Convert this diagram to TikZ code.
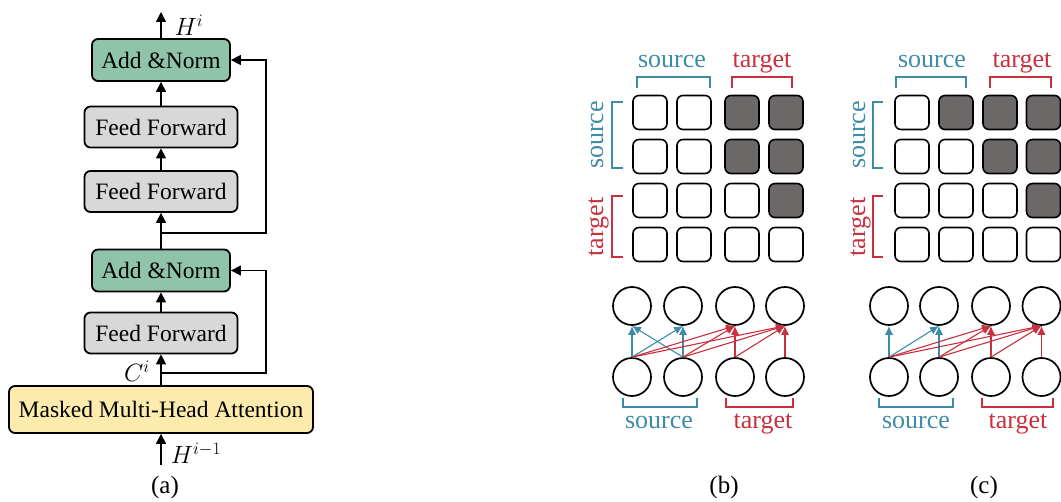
\RequirePackage{fix-cm}
\documentclass[tikz,border=0pt]{standalone}
\usepackage{fontspec}
\setmainfont{Liberation Serif}
\usetikzlibrary{arrows.meta}

\definecolor{normgreen}{RGB}{143,196,171}
\definecolor{ffgray}{RGB}{216,216,216}
\definecolor{attnyellow}{RGB}{252,235,172}
\definecolor{srcblue}{RGB}{62,139,168}
\definecolor{tgtred}{RGB}{201,48,62}
\definecolor{maskgray}{RGB}{108,104,104}

\begin{document}
\begin{tikzpicture}[x=1pt,y=-1pt,
  blockbox/.style={draw, line width=1.8pt, rounded corners=6pt, inner sep=0pt,
    font=\fontsize{23.5}{27}\selectfont},
  normbox/.style={blockbox, fill=normgreen, minimum width=138pt, minimum height=42pt},
  ffbox/.style={blockbox, fill=ffgray, minimum width=153pt, minimum height=41pt},
  attnbox/.style={blockbox, fill=attnyellow, minimum width=304pt, minimum height=47pt},
  flow/.style={line width=1.4pt, -{Triangle[length=10pt,width=10pt]}},
  mathlbl/.style={inner sep=0pt, font=\fontsize{25}{29}\selectfont},
  cell/.style={draw, line width=1.6pt, rounded corners=6pt, minimum size=34pt, inner sep=0pt},
  unit/.style={draw, circle, line width=1.7pt, minimum size=38pt, inner sep=0pt},
  grouplbl/.style={inner sep=0pt, anchor=base, font=\fontsize{26}{30}\selectfont},
  bracketline/.style={line width=1.5pt},
  srcarrow/.style={srcblue, line width=1.1pt, -{Latex[length=9pt,width=8pt]}},
  tgtarrow/.style={tgtred, line width=1.1pt, -{Latex[length=9pt,width=8pt]}},
  caption/.style={inner sep=0pt, font=\fontsize{25}{29}\selectfont}
]
\useasboundingbox (0,0) rectangle (1061,502);

% ---------- (a) decoder block ----------
\node[normbox] (an1) at (161,60) {Add \&Norm};
\node[ffbox]   (ff1) at (161,127) {Feed Forward};
\node[ffbox]   (ff2) at (161,191.5) {Feed Forward};
\node[normbox] (an2) at (161,270.5) {Add \&Norm};
\node[ffbox]   (ff3) at (161,333) {Feed Forward};
\node[attnbox] (mha) at (161,409.5) {Masked Multi-Head Attention};

\coordinate (hin)  at (161,465);
\coordinate (hout) at (161,12);
\coordinate (j1) at (161,373);
\coordinate (r1) at (266,373);
\coordinate (j2) at (161,233);
\coordinate (r2) at (266,233);

\draw[flow] (hin) -- (mha.south);
\draw[flow] (mha.north) -- (ff3.south);
\draw[flow] (ff3.north) -- (an2.south);
\draw[flow] (an2.north) -- (ff2.south);
\draw[flow] (ff2.north) -- (ff1.south);
\draw[flow] (ff1.north) -- (an1.south);
\draw[flow] (an1.north) -- (hout);
\draw[flow] (j1) -- (r1) |- (an2.east);
\draw[flow] (j2) -- (r2) |- (an2.east |- an1.east);

\node[mathlbl] (hi)  at (189,25)  {$H^{i}$};
\node[mathlbl] (ci)  at (137,371) {$C^{i}$};
\node[mathlbl] (him) at (196,453) {$H^{i-1}$};
\node[caption] (capa) at (165,487) {(a)};

% ---------- (b) and (c) attention masks ----------
% (b): masked where c>r and c>2 ; (c): masked where c>r
\foreach \r/\y in {1/112.5,2/156.5,3/200.5,4/244.5}{
  \foreach \c/\x in {1/650,2/694,3/742,4/786}{
    \pgfmathtruncatemacro\m{(\c>\r)&&(\c>2)}
    \ifnum\m=1 \def\cfill{maskgray}\else\def\cfill{white}\fi
    \node[cell, fill=\cfill] (b\r\c) at (\x,\y) {};
  }
  \foreach \c/\x in {1/912,2/956,3/1000,4/1043.5}{
    \pgfmathtruncatemacro\m{(\c>\r)}
    \ifnum\m=1 \def\cfill{maskgray}\else\def\cfill{white}\fi
    \node[cell, fill=\cfill] (c\r\c) at (\x,\y) {};
  }
}

% brackets and group labels around the masks
\draw[bracketline, srcblue] (637,88) -- (637,77) -- (710,77) -- (710,88);
\draw[bracketline, tgtred]  (732,88) -- (732,77) -- (792,77) -- (792,88);
\node[grouplbl, srcblue] (bsrc) at (672,68) {source};
\node[grouplbl, tgtred]  (btgt) at (762,68) {target};
\draw[bracketline, srcblue] (623,102) -- (612,102) -- (612,168) -- (623,168);
\draw[bracketline, tgtred]  (623,196) -- (612,196) -- (612,257) -- (623,257);
\node[grouplbl, srcblue, rotate=90] (bsrcv) at (603,135) {source};
\node[grouplbl, tgtred, rotate=90]  (btgtv) at (603,227) {target};

\draw[bracketline, srcblue] (896,88) -- (896,77) -- (966,77) -- (966,88);
\draw[bracketline, tgtred]  (990,88) -- (990,77) -- (1051,77) -- (1051,88);
\node[grouplbl, srcblue] (csrc) at (932,68) {source};
\node[grouplbl, tgtred]  (ctgt) at (1022,68) {target};
\draw[bracketline, srcblue] (883,102) -- (873,102) -- (873,168) -- (883,168);
\draw[bracketline, tgtred]  (883,196) -- (873,196) -- (873,257) -- (883,257);
\node[grouplbl, srcblue, rotate=90] (csrcv) at (865,135) {source};
\node[grouplbl, tgtred, rotate=90]  (ctgtv) at (865,227) {target};

% ---------- token units and attention links ----------
\foreach \i/\x in {1/632,2/683,3/735,4/785}{
  \node[unit] (bt\i) at (\x,306) {};
  \node[unit] (bs\i) at (\x,377) {};
}
\foreach \i/\x in {1/889,2/939,3/991,4/1041.5}{
  \node[unit] (ct\i) at (\x,306) {};
  \node[unit] (cs\i) at (\x,377) {};
}

% (b): bidirectional source, causal target
\foreach \a/\b in {1/1,1/2,2/1,2/2}
  \draw[srcarrow] (bs\a.north) -- (bt\b.south);
\foreach \a/\b in {1/3,1/4,2/3,2/4,3/3,3/4,4/4}
  \draw[tgtarrow] (bs\a.north) -- (bt\b.south);

% (c): fully causal
\foreach \a/\b in {1/1,1/2,2/2}
  \draw[srcarrow] (cs\a.north) -- (ct\b.south);
\foreach \a/\b in {1/3,1/4,2/3,2/4,3/3,3/4,4/4}
  \draw[tgtarrow] (cs\a.north) -- (ct\b.south);

\draw[bracketline, srcblue] (623,398) -- (623,407) -- (697,407) -- (697,398);
\draw[bracketline, tgtred]  (726,398) -- (726,407) -- (793,407) -- (793,398);
\node[grouplbl, srcblue] (bsrcb) at (659,429) {source};
\node[grouplbl, tgtred]  (btgtb) at (763,429) {target};

\draw[bracketline, srcblue] (879,398) -- (879,407) -- (953,407) -- (953,398);
\draw[bracketline, tgtred]  (982,398) -- (982,407) -- (1053,407) -- (1053,398);
\node[grouplbl, srcblue] (csrcb) at (916,429) {source};
\node[grouplbl, tgtred]  (ctgtb) at (1018,429) {target};

\node[caption] (capb) at (724,487) {(b)};
\node[caption] (capc) at (984,487) {(c)};
\end{tikzpicture}
\end{document}
